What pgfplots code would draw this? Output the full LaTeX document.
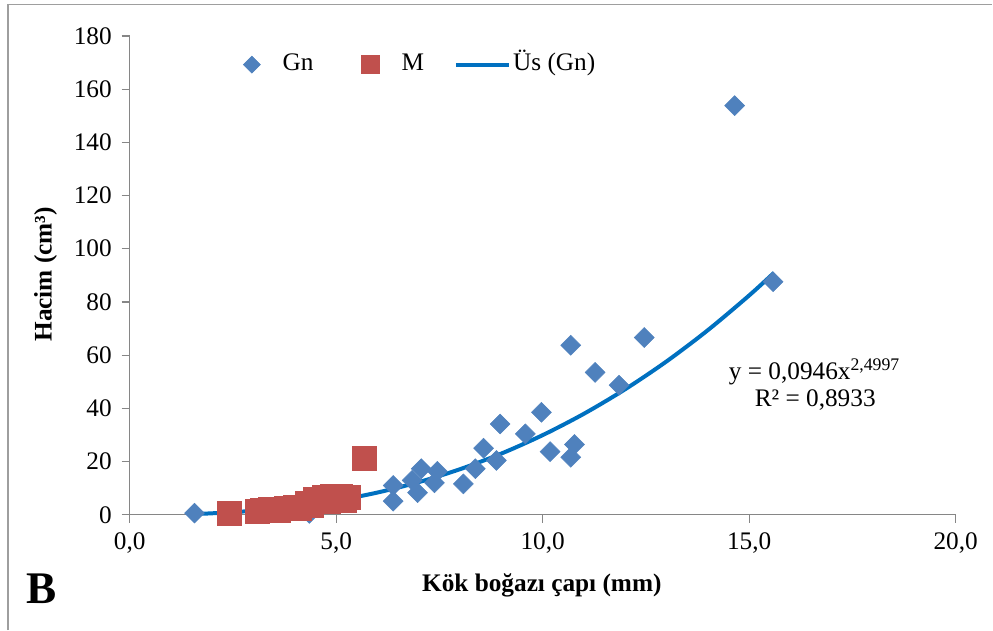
\documentclass[border=0pt]{standalone}
\usepackage{pgfplots}
\pgfplotsset{compat=1.18}
\usepackage{fontspec}
\setmainfont{Liberation Serif}

\definecolor{gnblue}{HTML}{4F81BD}
\definecolor{mred}{HTML}{C0504D}
\definecolor{fitblue}{HTML}{0070C0}
\definecolor{axgray}{HTML}{868686}

\begin{document}
\begin{tikzpicture}
  % page size = 993 x 629 px, 1px = 0.75pt
  \path (0pt,0pt) rectangle (744.75pt,471.75pt);
  \draw[axgray!80,line width=1.2pt] (6pt,-2pt) -- (6pt,468.4pt) -- (746pt,468.4pt);
  \begin{axis}[
    at={(97.5pt,84.75pt)}, anchor=south west,
    scale only axis, width=621pt, height=360pt,
    xmin=0, xmax=20, ymin=0, ymax=180,
    xtick={0,5,10,15,20}, ytick={0,20,...,180},
    axis x line=bottom, axis y line=left,
    axis line style={-, axgray, line width=0.9pt},
    tick style={axgray, line width=0.9pt},
    tick align=outside, major tick length=6pt,
    font=\fontsize{19}{23}\selectfont,
    /pgf/number format/assume math mode=true,
    xticklabel style={/pgf/number format/.cd, fixed, fixed zerofill, precision=1, use comma},
    xticklabel shift=4pt, yticklabel shift=4pt,
    xlabel={\bfseries Kök boğazı çapı (mm)},
    ylabel={\bfseries Hacim (cm³)},
    xlabel style={at={(axis description cs:0.499,-0.148)}, anchor=center},
    ylabel style={at={(axis description cs:-0.102,0.502)}, anchor=center},
    clip=false,
    legend columns=3,
    legend style={at={(axis description cs:0.137,0.94)}, anchor=west, draw=none, fill=none,
      inner sep=0pt, nodes={inner sep=0pt, text height=13pt, text depth=4pt},
      font=\fontsize{19}{23}\selectfont,
      /tikz/column 2/.style={column sep=36pt},
      /tikz/column 4/.style={column sep=22.5pt}},
  ]
    \addplot[only marks, mark=square*, mark size=5.3pt, mark options={rotate=45}, color=gnblue,
      legend image code/.code={\fill[gnblue] (0,-6.4pt) -- (6.4pt,0) -- (0,6.4pt) -- (-6.4pt,0) -- cycle;
        \path (23pt,0);}]
      coordinates {
      (1.57,0.6) (4.35,0.5)
      (6.38,11.0) (6.38,5.1) (6.84,12.9) (7.06,17.3) (6.97,8.3)
      (7.45,16.3) (7.38,12.0) (8.08,11.6) (8.37,17.3) (8.57,25.0)
      (8.88,20.4) (8.97,34.1) (9.58,30.4) (9.97,38.5) (10.18,23.7)
      (10.77,26.4) (10.68,21.6) (10.68,63.7) (11.27,53.5) (11.85,48.7)
      (12.46,66.6) (14.65,153.8) (15.58,87.6)
    };
    \addlegendentry{Gn}
    \addplot[only marks, mark=square*, mark size=9pt, color=mred,
      legend image code/.code={\fill[mred] (-6.75pt,-6.75pt) rectangle (6.75pt,6.75pt);
        \path (23pt,0);}]
      coordinates {
      (2.42,0.7) (3.1,1.2) (3.2,1.8) (3.3,1.5) (3.4,2.0) (3.6,1.8)
      (3.8,2.4) (4.0,3.0) (4.1,2.6) (4.3,4.5) (4.4,3.5) (4.5,5.8)
      (4.7,6.4) (4.8,5.0) (4.9,6.8) (5.0,6.2) (5.1,6.9) (5.2,5.5)
      (5.3,6.6) (5.68,21.3)
    };
    \addlegendentry{M}
    \addplot[smooth, color=fitblue, line width=3pt,
      legend image code/.code={\draw[fitblue,line width=3pt] (0,0) -- (40pt,0);
        \path (41.5pt,0);}]
      coordinates {
      (1.6,0.31) (2,0.54) (3,1.48) (4,3.03) (5,5.29) (6,8.34) (7,12.26)
      (8,17.12) (9,22.99) (10,29.92) (11,37.96) (12,47.19) (13,57.64)
      (14,69.38) (15,82.43) (15.6,90.93)
    };
    \addlegendentry{Üs (Gn)}
    \node[anchor=center, font=\fontsize{19}{23}\selectfont] at (axis description cs:0.829,0.298)
      {y = 0,0946x\textsuperscript{2,4997}};
    \node[anchor=center, font=\fontsize{19}{23}\selectfont] at (axis description cs:0.830,0.24)
      {R² = 0,8933};
    \node[anchor=center, font=\fontsize{34}{40}\selectfont\bfseries] at (axis description cs:-0.107,-0.154) {B};
  \end{axis}
\end{tikzpicture}
\end{document}
